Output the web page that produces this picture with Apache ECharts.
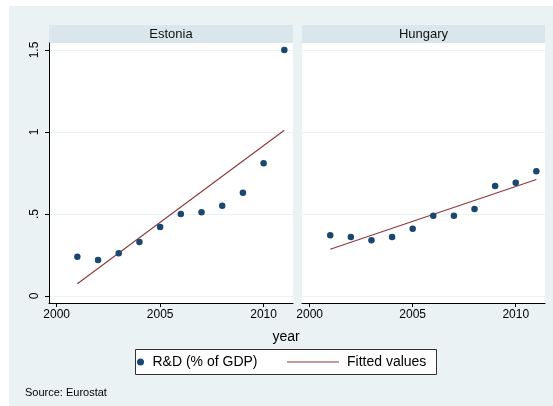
<!DOCTYPE html>
<html>
<head>
<meta charset="utf-8">
<script src="https://cdn.jsdelivr.net/npm/echarts@6/dist/echarts.min.js"></script>
<style>
  html, body { margin: 0; padding: 0; background: #ffffff; }
  #chart { width: 553px; height: 406px; }
</style>
</head>
<body>
<div id="chart"></div>
<script>
// R&D expenditure as % of GDP, by year
const years = [2001, 2002, 2003, 2004, 2005, 2006, 2007, 2008, 2009, 2010, 2011];
const estonia = [0.24, 0.22, 0.26, 0.33, 0.42, 0.50, 0.51, 0.55, 0.63, 0.81, 1.50];
const hungary = [0.37, 0.36, 0.34, 0.36, 0.41, 0.49, 0.49, 0.53, 0.67, 0.69, 0.76];

// Linear fit endpoints (fitted values at first and last year)
const fitYears = [2001, 2011];
const estoniaFitted = [0.075, 1.011];
const hungaryFitted = [0.285, 0.710];

// Axis ticks
const xTicks = [2000, 2005, 2010];
const yTicks = [0, 0.5, 1, 1.5];
const yTickLabels = ['0', '.5', '1', '1.5'];

const panels = ['Estonia', 'Hungary'];

const FONT = '"Liberation Sans", Arial, Helvetica, sans-serif';
const BG = '#eaf2f3';
const STRIP = '#d9e6eb';
const NAVY = '#1a476f';
const MAROON = '#90353b';

const pairs = (xs, ys) => xs.map((x, i) => [x, ys[i]]);

const gridBoxes = [
  { left: 49, top: 43, width: 244, height: 260 },
  { left: 302, top: 43, width: 243, height: 260 }
];

function xAxisFor(i) {
  return {
    gridIndex: i, type: 'value', min: 1999.63, max: 2011.42,
    axisLine: { show: true, onZero: false, lineStyle: { color: '#000', width: 1 } },
    axisTick: { show: true, length: 4, inside: false, customValues: xTicks, lineStyle: { color: '#000' } },
    axisLabel: {
      customValues: xTicks, color: '#000', fontSize: 12, fontFamily: FONT, margin: 6,
      formatter: v => String(Math.round(v))
    },
    splitLine: { show: false }
  };
}

function yAxisFor(i) {
  const first = i === 0;
  return {
    gridIndex: i, type: 'value', min: -0.0427, max: 1.5427,
    axisLine: { show: first, onZero: false, lineStyle: { color: '#000', width: 1 } },
    axisTick: { show: first, length: 4, customValues: yTicks, lineStyle: { color: '#000' } },
    axisLabel: {
      show: first, customValues: yTicks, rotate: 90, color: '#000', fontSize: 12, fontFamily: FONT, margin: 8,
      formatter: v => {
        const k = yTicks.findIndex(t => Math.abs(t - v) < 1e-6);
        return k >= 0 ? yTickLabels[k] : String(v);
      }
    },
    splitLine: { show: true, lineStyle: { color: BG, width: 1.2 } }
  };
}

const dataSets = [estonia, hungary];
const fitSets = [estoniaFitted, hungaryFitted];

const series = [];
panels.forEach((name, i) => {
  series.push({
    name: 'R&D (% of GDP)', type: 'scatter', xAxisIndex: i, yAxisIndex: i,
    symbol: 'circle', symbolSize: 6.5,
    itemStyle: { color: NAVY, opacity: 1 },
    data: pairs(years, dataSets[i]), z: 3
  });
  series.push({
    name: 'Fitted values', type: 'line', xAxisIndex: i, yAxisIndex: i,
    symbol: 'none', showSymbol: false,
    lineStyle: { color: MAROON, width: 1.1 },
    itemStyle: { color: MAROON },
    data: pairs(fitYears, fitSets[i]), z: 2
  });
});

const graphics = [
  // graph background
  { type: 'rect', shape: { x: 9, y: 6, width: 544, height: 400 }, style: { fill: BG }, z: -10, silent: true },
  // plot region fills
  ...gridBoxes.map(g => ({ type: 'rect', shape: { x: g.left, y: g.top, width: g.width, height: g.height }, style: { fill: '#ffffff' }, z: -9, silent: true })),
  // panel title strips
  ...gridBoxes.map((g, i) => ({
    type: 'group', z: -8, silent: true,
    children: [
      { type: 'rect', shape: { x: g.left, y: 25, width: g.width, height: 18 }, style: { fill: STRIP } },
      { type: 'text', x: g.left + g.width / 2, y: 34, style: { text: panels[i], fill: '#111', font: '13px ' + FONT, align: 'center', verticalAlign: 'middle' } }
    ]
  })),
  // x axis title
  { type: 'text', x: 286, y: 337, style: { text: 'year', fill: '#000', font: '14px ' + FONT, align: 'center', verticalAlign: 'middle' }, silent: true },
  // legend frame
  { type: 'rect', shape: { x: 135.5, y: 349.5, width: 301, height: 25 }, style: { fill: '#ffffff', stroke: '#333', lineWidth: 1 }, z: -5, silent: true },
  // note
  { type: 'text', x: 25, y: 393, style: { text: 'Source: Eurostat', fill: '#000', font: '11px ' + FONT, align: 'left', verticalAlign: 'middle' }, silent: true }
];

const chart = echarts.init(document.getElementById('chart'), null, { renderer: 'canvas' });
chart.setOption({
  animation: false,
  backgroundColor: '#ffffff',
  grid: gridBoxes.map(g => Object.assign({ containLabel: false }, g)),
  xAxis: [xAxisFor(0), xAxisFor(1)],
  yAxis: [yAxisFor(0), yAxisFor(1)],
  legend: [
    {
      data: [{ name: 'R&D (% of GDP)', icon: 'circle' }],
      left: 137, top: 355, padding: 0, itemWidth: 14, itemHeight: 7,
      itemStyle: { opacity: 1 },
      textStyle: { color: '#000', fontSize: 14, fontFamily: FONT }
    },
    {
      data: [{ name: 'Fitted values', icon: 'rect', itemStyle: { color: MAROON } }],
      left: 287, top: 355, padding: 0, itemWidth: 52, itemHeight: 1.2,
      textStyle: { color: '#000', fontSize: 14, fontFamily: FONT, padding: [0, 0, 0, 3] }
    }
  ],
  graphic: graphics,
  series: series
});
</script>
</body>
</html>
